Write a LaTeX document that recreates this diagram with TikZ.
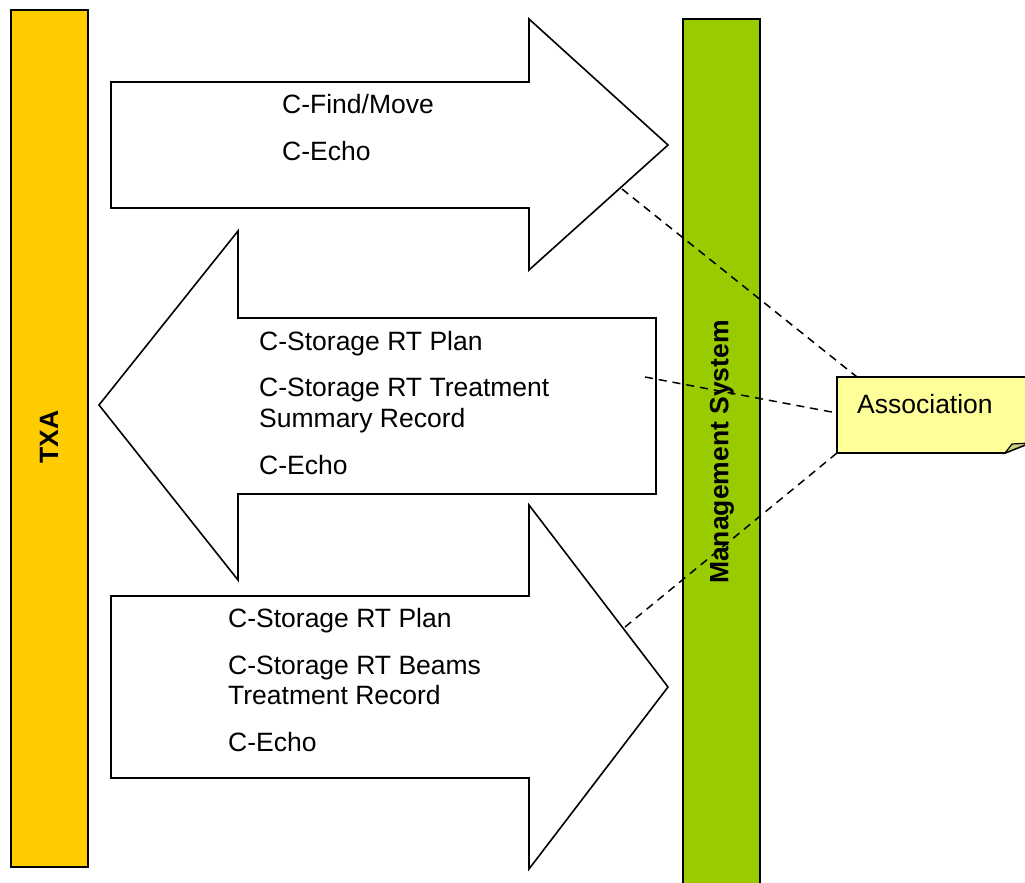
\documentclass[tikz,border=0pt]{standalone}
\usepackage{fontspec}
\setmainfont{Liberation Sans}
\definecolor{txaorange}{HTML}{FFCC00}
\definecolor{msgreen}{HTML}{99CC00}
\definecolor{noteyellow}{HTML}{FFFF99}
\definecolor{foldyellow}{HTML}{CCCC7A}
\tikzset{
  bar/.style={draw=black, line width=2pt},
  bigarrow/.style={draw=black, fill=white, line width=1.6pt, line join=miter},
  msg/.style={anchor=base west, inner sep=0pt, font=\fontsize{26.5}{31}\selectfont},
  vlabel/.style={rotate=90, inner sep=0pt, font=\fontsize{26.5}{31}\selectfont\bfseries},
  assoc/.style={draw=black, line width=1.5pt, dash pattern=on 8pt off 6pt},
  notebox/.style={draw=black, fill=noteyellow, line width=1.8pt, line join=miter}
}
\begin{document}
\begin{tikzpicture}[x=1pt,y=-1pt]
\useasboundingbox (0,0) rectangle (1025,883);
\clip (0,0) rectangle (1025,883);
% bars
\draw[bar, fill=txaorange] (11,10) rectangle (88,867);
\draw[bar, fill=msgreen] (683,19) rectangle (760,895);
\node[vlabel] (txa) at (49,437) {TXA};
\node[vlabel] (ms) at (722,452) {Management System};
% arrow 1 (right)
\draw[bigarrow] (111,82) -- (529,82) -- (529,19) -- (668,145) -- (529,270) -- (529,208) -- (111,208) -- cycle;
% arrow 2 (left)
\draw[bigarrow] (656,318) -- (238,318) -- (238,231) -- (99,405) -- (238,580) -- (238,494) -- (656,494) -- cycle;
% arrow 3 (right)
\draw[bigarrow] (111,596) -- (529,596) -- (529,505) -- (668,687) -- (529,869) -- (529,778) -- (111,778) -- cycle;
% texts
\node[msg] (a1l1) at (282,113) {C-Find/Move};
\node[msg] (a1l2) at (282,160) {C-Echo};
\node[msg] (a2l1) at (259,350) {C-Storage RT Plan};
\node[msg] (a2l2) at (259,396) {C-Storage RT Treatment};
\node[msg] (a2l3) at (259,427) {Summary Record};
\node[msg] (a2l4) at (259,474) {C-Echo};
\node[msg] (a3l1) at (228,627) {C-Storage RT Plan};
\node[msg] (a3l2) at (228,674) {C-Storage RT Beams};
\node[msg] (a3l3) at (228,704) {Treatment Record};
\node[msg] (a3l4) at (228,751) {C-Echo};
% association connector ends
\coordinate (p1) at (622,189);
\coordinate (p2) at (645,377);
\coordinate (p3) at (625,627);
\coordinate (n1) at (857,377);
\coordinate (n2) at (837,413);
\coordinate (n3) at (837,453);
\draw[assoc] (p1) -- (n1);
\draw[assoc] (p2) -- (n2);
\draw[assoc] (p3) -- (n3);
% note
\draw[notebox] (837,377) -- (1030,377) -- (1030,443) -- (1005,453) -- (837,453) -- cycle;
\draw[black, fill=foldyellow, line width=1.2pt, line join=miter] (1005,453) -- (1012,444) -- (1030,443) -- cycle;
\node[msg] (assocl) at (857,413) {Association};
\end{tikzpicture}
\end{document}
